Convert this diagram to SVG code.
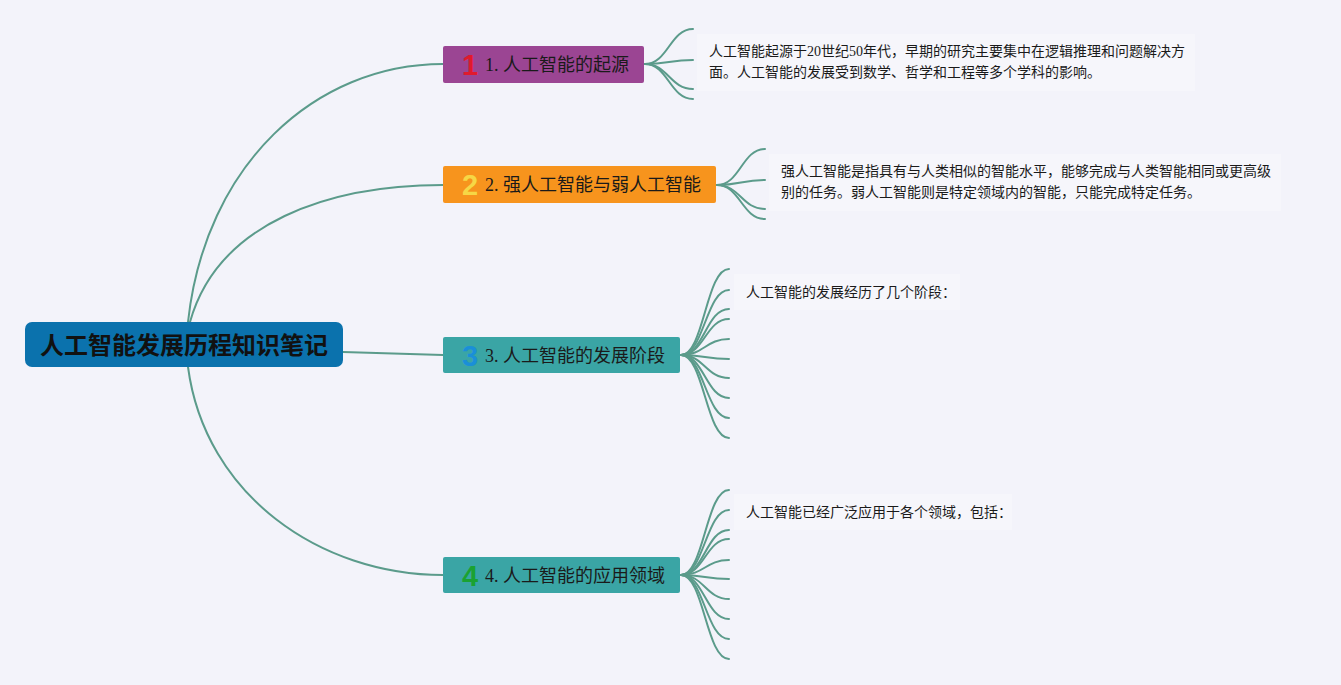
<svg xmlns="http://www.w3.org/2000/svg" width="1341" height="685" viewBox="0 0 1341 685">
<style>
.bg{fill:#f3f3fa}
.tb{fill:#f6f6fb}
.ln{fill:none;stroke:#5b9b8b;stroke-width:2;stroke-linecap:round}
.root{font-family:"Noto Sans CJK SC","Liberation Sans",sans-serif;font-size:24px;font-weight:bold;fill:#111}
.tt{font-family:"Liberation Serif","Noto Sans CJK SC",serif;font-size:18px;fill:#1a1a1a}
.num{font-family:"Liberation Sans Narrow","Liberation Sans","Noto Sans",sans-serif;font-size:29px;font-weight:bold;text-anchor:middle}
.dt{font-family:"Liberation Serif","Noto Sans CJK SC",sans-serif;font-size:14px;fill:#1a1a1a}
</style>
<rect class="bg" x="0" y="0" width="1341" height="685"/>
<g id="connectors">
<path class="ln" d="M188,322 C205,165 315,64 443,64"/>
<path class="ln" d="M190,322 C218,222 330,185 443,185"/>
<path class="ln" d="M343,352 L443,355"/>
<path class="ln" d="M188,367 C205,495 320,575 443,575"/>
<path class="ln" d="M645,64 C668,64 670,29 693,29"/>
<path class="ln" d="M645,64 C668,64 670,60 693,60"/>
<path class="ln" d="M645,64 C668,64 670,89 693,89"/>
<path class="ln" d="M645,64 C668,64 670,99 693,99"/>
<path class="ln" d="M717,185 C740,185 742,149 765,149"/>
<path class="ln" d="M717,185 C740,185 742,180 765,180"/>
<path class="ln" d="M717,185 C740,185 742,209 765,209"/>
<path class="ln" d="M717,185 C740,185 742,219 765,219"/>
<path class="ln" d="M681,355 C704,355 706,269 729,269"/>
<path class="ln" d="M681,355 C704,355 706,290 729,290"/>
<path class="ln" d="M681,355 C704,355 706,309 729,309"/>
<path class="ln" d="M681,355 C704,355 706,319 729,319"/>
<path class="ln" d="M681,355 C704,355 706,339 729,339"/>
<path class="ln" d="M681,355 C704,355 706,359 729,359"/>
<path class="ln" d="M681,355 C704,355 706,378 729,378"/>
<path class="ln" d="M681,355 C704,355 706,398 729,398"/>
<path class="ln" d="M681,355 C704,355 706,418 729,418"/>
<path class="ln" d="M681,355 C704,355 706,438 729,438"/>
<path class="ln" d="M681,575 C704,575 706,490 729,490"/>
<path class="ln" d="M681,575 C704,575 706,510 729,510"/>
<path class="ln" d="M681,575 C704,575 706,530 729,530"/>
<path class="ln" d="M681,575 C704,575 706,539 729,539"/>
<path class="ln" d="M681,575 C704,575 706,560 729,560"/>
<path class="ln" d="M681,575 C704,575 706,579 729,579"/>
<path class="ln" d="M681,575 C704,575 706,599 729,599"/>
<path class="ln" d="M681,575 C704,575 706,619 729,619"/>
<path class="ln" d="M681,575 C704,575 706,639 729,639"/>
<path class="ln" d="M681,575 C704,575 706,659 729,659"/>
</g>
<g id="root">
<rect x="25" y="322" width="318" height="45" rx="7" fill="#0b72ad"/>
<text class="root" x="184" y="354" text-anchor="middle">人工智能发展历程知识笔记</text>
</g>
<g id="node1">
<rect x="443" y="46" width="201" height="37" rx="2" fill="#9b4593"/>
<text class="num" x="470" y="75" fill="#e01a2d">1</text>
<text class="tt" x="485" y="71">1. 人工智能的起源</text>
</g>
<g id="note1">
<rect class="tb" x="697" y="34" width="498" height="57"/>
<text class="dt" x="709" y="56">人工智能起源于20世纪50年代，早期的研究主要集中在逻辑推理和问题解决方</text>
<text class="dt" x="709" y="77">面。人工智能的发展受到数学、哲学和工程等多个学科的影响。</text>
</g>
<g id="node2">
<rect x="443" y="166" width="273" height="37" rx="2" fill="#f7941d"/>
<text class="num" x="470" y="195" fill="#f6d745">2</text>
<text class="tt" x="485" y="191">2. 强人工智能与弱人工智能</text>
</g>
<g id="note2">
<rect class="tb" x="769" y="154" width="512" height="57"/>
<text class="dt" x="781" y="176">强人工智能是指具有与人类相似的智能水平，能够完成与人类智能相同或更高级</text>
<text class="dt" x="781" y="197">别的任务。弱人工智能则是特定领域内的智能，只能完成特定任务。</text>
</g>
<g id="node3">
<rect x="443" y="337" width="237" height="36" rx="2" fill="#3aa5a5"/>
<text class="num" x="470" y="366" fill="#1a8fd8">3</text>
<text class="tt" x="485" y="362">3. 人工智能的发展阶段</text>
</g>
<g id="note3">
<rect class="tb" x="734" y="274" width="226" height="36"/>
<text class="dt" x="746" y="297">人工智能的发展经历了几个阶段：</text>
</g>
<g id="node4">
<rect x="443" y="557" width="237" height="36" rx="2" fill="#3aa5a5"/>
<text class="num" x="470" y="586" fill="#1aa232">4</text>
<text class="tt" x="485" y="582">4. 人工智能的应用领域</text>
</g>
<g id="note4">
<rect class="tb" x="734" y="494" width="278" height="36"/>
<text class="dt" x="746" y="517">人工智能已经广泛应用于各个领域，包括：</text>
</g>
</svg>
